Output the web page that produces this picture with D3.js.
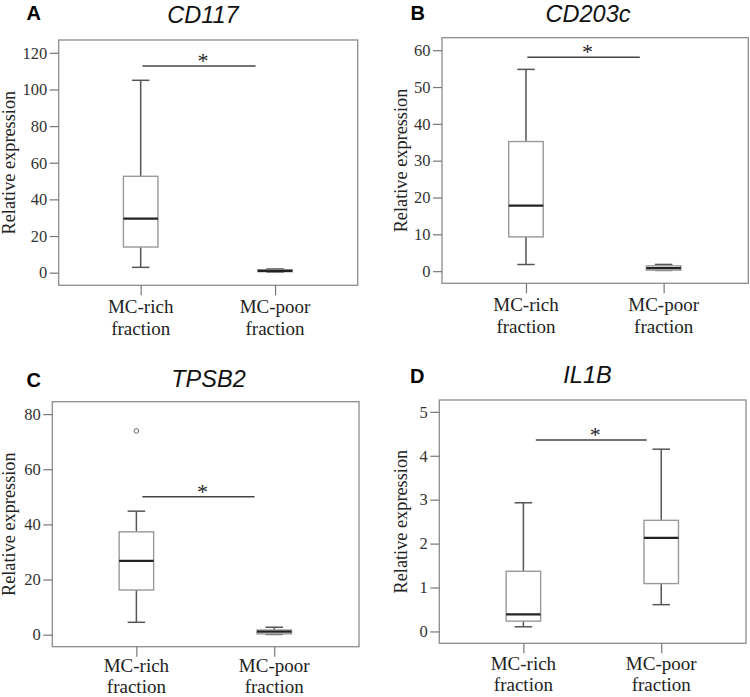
<!DOCTYPE html>
<html>
<head>
<meta charset="utf-8">
<script src="https://cdn.jsdelivr.net/npm/d3@7/dist/d3.min.js"></script>
<style>
  html, body { margin: 0; padding: 0; background: #fff; }
  svg { display: block; }
  .serif { font-family: "Liberation Serif", "Times New Roman", Times, "DejaVu Serif", serif; }
  .sans { font-family: "Liberation Sans", Arial, Helvetica, sans-serif; }
</style>
</head>
<body>
<svg id="chart" width="750" height="697"></svg>
<script>
// ---------------- DATA ----------------
const panelLetters = ["A", "B", "C", "D"];
const geneTitles = ["CD117", "CD203c", "TPSB2", "IL1B"];
const categoryLine1 = ["MC-rich", "MC-poor"];
const categoryLine2 = ["fraction", "fraction"];
const yAxisLabel = "Relative expression";

// box statistics: [whisker low, Q1, median, Q3, whisker high], one row per category
const cd117Stats  = [[2.9, 14.0, 29.5, 52.6, 105.0], [0.3, 0.5, 1.0, 1.6, 2.0]];
const cd203cStats = [[1.8, 9.3, 17.8, 35.2, 54.8],   [0.2, 0.27, 0.82, 1.44, 1.82]];
const tpsb2Stats  = [[4.5, 16.2, 26.8, 37.3, 44.8],  [0.1, 0.3, 1.1, 1.7, 2.7]];
const il1bStats   = [[0.106, 0.235, 0.39, 1.37, 2.93], [0.61, 1.09, 2.13, 2.53, 4.15]];

// outliers: [category index, value]
const cd117Outliers  = [];
const cd203cOutliers = [];
const tpsb2Outliers  = [[0, 73.9]];
const il1bOutliers   = [];

// y tick values
const cd117Ticks  = [0, 20, 40, 60, 80, 100, 120];
const cd203cTicks = [0, 10, 20, 30, 40, 50, 60];
const tpsb2Ticks  = [0, 20, 40, 60, 80];
const il1bTicks   = [0, 1, 2, 3, 4, 5];

// y axis extents
const cd117Domain  = [-6.9, 127];
const cd203cDomain = [-3.3, 63.4];
const tpsb2Domain  = [-4.35, 84.5];
const il1bDomain   = [-0.27, 5.27];

// significance bar: value level, and span in category units (0 = MC-rich, 1 = MC-poor)
const sigLevels = [112.8, 58.1, 50.0, 4.36];
const sigSpans  = [[0.013, 0.855], [0.01, 0.827], [0.043, 0.857], [0.09, 0.895]];

// ---------------- LAYOUT ----------------
const frames = [
  {x0: 58.7, x1: 357.7, y0: 40,    y1: 285.3, titleX: 203, titleY: 22.5, letterX: 26.5, letterY: 20,  ylabX: 14.7, catY: 28, catGap: 21.6},
  {x0: 442,  x1: 748.3, y0: 37.7,  y1: 283.3, titleX: 588, titleY: 21.5, letterX: 410.5, letterY: 19.5, ylabX: 406.7, catY: 28, catGap: 21.6},
  {x0: 52.3, x1: 359,   y0: 401.7, y1: 646.7, titleX: 208.5, titleY: 386.5, letterX: 26.5, letterY: 387, ylabX: 15, catY: 25, catGap: 21.1},
  {x0: 439.3, x1: 746,  y0: 400,   y1: 643.3, titleX: 587.5, titleY: 382.5, letterX: 410, letterY: 383, ylabX: 407.3, catY: 27, catGap: 21.1}
];

const panels = [
  {stats: cd117Stats,  outliers: cd117Outliers,  ticks: cd117Ticks,  domain: cd117Domain},
  {stats: cd203cStats, outliers: cd203cOutliers, ticks: cd203cTicks, domain: cd203cDomain},
  {stats: tpsb2Stats,  outliers: tpsb2Outliers,  ticks: tpsb2Ticks,  domain: tpsb2Domain},
  {stats: il1bStats,   outliers: il1bOutliers,   ticks: il1bTicks,   domain: il1bDomain}
];

const boxW = 34.5;
const capW = 17.5;

const svg = d3.select("#chart");

panels.forEach((p, i) => {
  const f = frames[i];
  const x = d3.scaleLinear().domain([-0.61, 1.615]).range([f.x0, f.x1]);
  const y = d3.scaleLinear().domain(p.domain).range([f.y1, f.y0]);
  const g = svg.append("g");

  // frame
  g.append("rect")
    .attr("x", f.x0).attr("y", f.y0)
    .attr("width", f.x1 - f.x0).attr("height", f.y1 - f.y0)
    .attr("fill", "none").attr("stroke", "#8c8c8c").attr("stroke-width", 1.3);

  // y axis
  const yAxis = d3.axisLeft(y).tickValues(p.ticks).tickSize(9).tickPadding(2.5).tickFormat(d3.format("d"));
  const ya = g.append("g").attr("transform", `translate(${f.x0},0)`).call(yAxis);
  ya.attr("font-family", null).attr("font-size", null);
  ya.select(".domain").remove();
  ya.selectAll(".tick line").attr("stroke", "#777").attr("stroke-width", 1.2);
  ya.selectAll(".tick text").attr("class", "serif").style("font-size", "16.5px").attr("fill", "#333");

  // x axis
  const xAxis = d3.axisBottom(x).tickValues([0, 1]).tickSize(10).tickFormat(() => "");
  const xa = g.append("g").attr("transform", `translate(0,${f.y1})`).call(xAxis);
  xa.select(".domain").remove();
  xa.selectAll(".tick line").attr("stroke", "#777").attr("stroke-width", 1.2);

  // category labels
  [0, 1].forEach(c => {
    const t = g.append("text")
      .attr("class", "serif")
      .attr("x", x(c)).attr("y", f.y1 + f.catY)
      .attr("text-anchor", "middle")
      .style("font-size", "19px").attr("fill", "#222");
    t.append("tspan").attr("x", x(c)).text(categoryLine1[c]);
    t.append("tspan").attr("x", x(c)).attr("dy", f.catGap).text(categoryLine2[c]);
  });

  // y label
  g.append("text")
    .attr("class", "serif")
    .attr("transform", `translate(${f.ylabX},${(f.y0 + f.y1) / 2}) rotate(-90)`)
    .attr("text-anchor", "middle")
    .style("font-size", "18.3px").attr("fill", "#222")
    .text(yAxisLabel);

  // title
  g.append("text")
    .attr("class", "sans")
    .attr("x", f.titleX).attr("y", f.titleY)
    .attr("text-anchor", "middle")
    .style("font-style", "italic").style("font-size", "23.5px").attr("fill", "#111")
    .text(geneTitles[i]);

  // panel letter
  g.append("text")
    .attr("class", "sans")
    .attr("x", f.letterX).attr("y", f.letterY)
    .style("font-weight", "bold").style("font-size", "20px").attr("fill", "#000")
    .text(panelLetters[i]);

  // boxes
  p.stats.forEach((s, c) => {
    const cx = x(c);
    const [lo, q1, med, q3, hi] = s;
    g.append("line").attr("x1", cx).attr("x2", cx).attr("y1", y(q3)).attr("y2", y(hi))
      .attr("stroke", "#555").attr("stroke-width", 1.5);
    g.append("line").attr("x1", cx).attr("x2", cx).attr("y1", y(q1)).attr("y2", y(lo))
      .attr("stroke", "#555").attr("stroke-width", 1.5);
    [lo, hi].forEach(v => {
      g.append("line").attr("x1", cx - capW / 2).attr("x2", cx + capW / 2).attr("y1", y(v)).attr("y2", y(v))
        .attr("stroke", "#555").attr("stroke-width", 1.5);
    });
    g.append("rect")
      .attr("x", cx - boxW / 2).attr("y", y(q3))
      .attr("width", boxW).attr("height", Math.max(0.5, y(q1) - y(q3)))
      .attr("fill", "#fff").attr("stroke", "#999").attr("stroke-width", 1.4);
    g.append("line").attr("x1", cx - boxW / 2).attr("x2", cx + boxW / 2).attr("y1", y(med)).attr("y2", y(med))
      .attr("stroke", "#222").attr("stroke-width", 2.2);
  });

  // outliers
  p.outliers.forEach(o => {
    g.append("circle").attr("cx", x(o[0])).attr("cy", y(o[1])).attr("r", 2.3)
      .attr("fill", "none").attr("stroke", "#666").attr("stroke-width", 1);
  });

  // significance bar
  const sx0 = x(sigSpans[i][0]), sx1 = x(sigSpans[i][1]), sy = y(sigLevels[i]);
  g.append("line").attr("x1", sx0).attr("x2", sx1).attr("y1", sy).attr("y2", sy)
    .attr("stroke", "#444").attr("stroke-width", 1.5);
  g.append("text")
    .attr("class", "serif")
    .attr("x", (sx0 + sx1) / 2 + 4).attr("y", sy + 2)
    .attr("text-anchor", "middle")
    .style("font-size", "22px").attr("fill", "#222")
    .text("*");
});
</script>
</body>
</html>
